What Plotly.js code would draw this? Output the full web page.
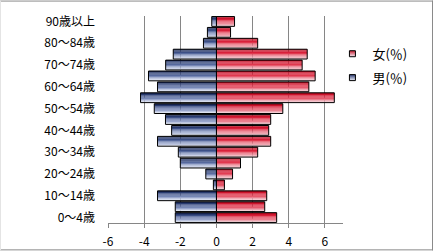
<!DOCTYPE html>
<html>
<head>
<meta charset="utf-8">
<script src="https://cdn.plot.ly/plotly-3.0.1.min.js"></script>
<style>html,body{margin:0;padding:0;background:#fff;}#chart{width:433px;height:252px;}</style>
</head>
<body>
<div id="chart"></div>
<script>
const ageGroups = ["0～4歳","5～9歳","10～14歳","15～19歳","20～24歳","25～29歳","30～34歳","35～39歳","40～44歳","45～49歳","50～54歳","55～59歳","60～64歳","65～69歳","70～74歳","75～79歳","80～84歳","85～89歳","90歳以上"];
const maleValues = [-2.28,-2.28,-3.26,-0.17,-0.59,-2.0,-2.11,-3.26,-2.48,-2.82,-3.44,-4.2,-3.26,-3.76,-2.81,-2.39,-0.72,-0.5,-0.26];
const femaleValues = [3.33,2.67,2.78,0.44,0.89,1.33,2.28,3.0,2.89,3.0,3.67,6.52,5.11,5.46,4.74,5.02,2.28,0.78,1.0];
const tickLabels = ["0～4歳","10～14歳","20～24歳","30～34歳","40～44歳","50～54歳","60～64歳","70～74歳","80～84歳","90歳以上"];
const maleName = "男(％)";
const femaleName = "女(％)";

// gradient strips, bottom (light) to top (dark)
const blueStrips = ["#dfe4f1","#bcc5e0","#98a5cb","#7686b5","#56699d","#3c4f86","#283a6e","#1a2858"];
const redStrips  = ["#f4ccd3","#eea6b1","#ea808f","#e65a6d","#e0384e","#d8203a","#cc142c","#b80c20"];

const W = 0.9;
const N = blueStrips.length;
const traces = [];
const font = "'Noto Sans CJK JP', 'Noto Sans', sans-serif";

function addSeries(vals, name, strips, dark, rank){
  strips.forEach((c,k)=>{
    traces.push({type:'bar', orientation:'h', y:ageGroups, x:vals,
      width:W/N, offset:-W/2 + k*W/N, marker:{color:c, line:{width:0}},
      showlegend:false, hoverinfo:'skip'});
  });
  traces.push({type:'bar', orientation:'h', y:ageGroups, x:vals,
    width:W, offset:-W/2, marker:{color:'rgba(0,0,0,0)', line:{color:'#000', width:1}},
    showlegend:false, hoverinfo:'skip'});
  // legend entry
  traces.push({type:'scatter', mode:'markers', x:[null], y:[null], name:name,
    marker:{symbol:'square', size:6, color:dark, gradient:{type:'vertical', color:'#f0f0f8'},
      line:{color:'#000', width:1}},
    legendgroup:name, legendrank:rank, hoverinfo:'skip'});
}
addSeries(maleValues, maleName, blueStrips, "#2c3c74", 2);
addSeries(femaleValues, femaleName, redStrips, "#cc1a2e", 1);

const layout = {
  width:433, height:252,
  margin:{l:108, r:90, t:15.5, b:28.5},
  barmode:'overlay',
  paper_bgcolor:'#fff', plot_bgcolor:'#fff',
  font:{family:font, size:12, color:'#000'},
  showlegend:true,
  legend:{x:0.955, xanchor:'left', y:0.89, yanchor:'top', font:{size:13, family:font},
    traceorder:'grouped', tracegroupgap:4, itemwidth:30, itemsizing:'trace', bgcolor:'rgba(0,0,0,0)'},
  xaxis:{range:[-6,7], tickvals:[-6,-4,-2,0,2,4,6], ticktext:['-6','-4','-2','0','2','4','6'],
    showgrid:true, gridcolor:'#868686', gridwidth:1,
    zeroline:true, zerolinecolor:'#404040', zerolinewidth:1,
    showline:true, linecolor:'#868686', linewidth:1,
    ticks:'outside', ticklen:4, tickcolor:'#868686',
    tickfont:{size:12, family:font}, ticklabelstandoff:4, fixedrange:true},
  yaxis:{type:'category', categoryorder:'array', categoryarray:ageGroups,
    range:[-0.5,18.5], tickvals:tickLabels, ticktext:tickLabels,
    showgrid:false, zeroline:false, showline:false, ticks:'',
    tickfont:{size:12, family:font}, ticklabelstandoff:12, fixedrange:true}
};
// border around the whole figure (paper coords converted from pixels)
const pw = 433-108-90, ph = 252-15.5-28.5;
const px = v => (v-108)/pw;
const py = v => (252-28.5-v)/ph;
layout.shapes = [
  {type:'line', xref:'paper', yref:'paper', x0:px(0), x1:px(433), y0:py(0.5), y1:py(0.5), line:{color:'#8a8a8a', width:1}},
  {type:'line', xref:'paper', yref:'paper', x0:px(0), x1:px(433), y0:py(250.5), y1:py(250.5), line:{color:'#8a8a8a', width:1}},
  {type:'line', xref:'paper', yref:'paper', x0:px(432.5), x1:px(432.5), y0:py(0), y1:py(251), line:{color:'#8a8a8a', width:1}},
  {type:'line', xref:'paper', yref:'paper', x0:px(0.5), x1:px(0.5), y0:py(0), y1:py(251), line:{color:'#e4e4e4', width:1}}
];

Plotly.newPlot('chart', traces, layout, {displayModeBar:false, staticPlot:true});
</script>
</body>
</html>
